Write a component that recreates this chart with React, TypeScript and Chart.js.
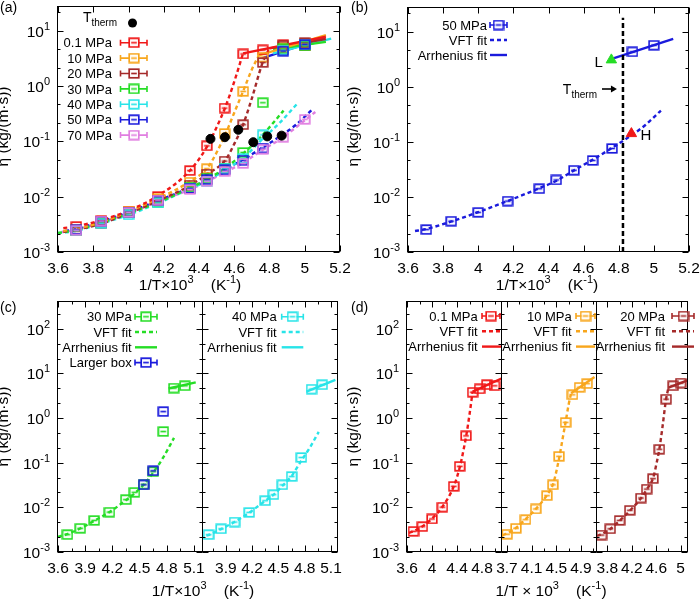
import React, { useEffect, useRef } from 'react';
import { Chart, registerables } from 'chart.js';

Chart.register(...registerables);

const W = 700;
const H = 601;
const FONT = '"Liberation Sans", Arial, Helvetica, sans-serif';
const TICK_FS = 15.5;

// ---------------- data ----------------
const invT = [3.704, 3.846, 4.0, 4.167, 4.348, 4.444, 4.545, 4.651, 4.762, 4.878, 5.0];
const eta01 = [0.0029, 0.0037, 0.0055, 0.0101, 0.0296, 0.083, 0.4, 3.8, 4.5, 5.6, 5.3];
const eta10 = [0.0025, 0.0034, 0.0053, 0.0092, 0.0183, 0.032, 0.139, 0.8, 3.33, 4.9, 5.9];
const eta20 = [0.0024, 0.0033, 0.0051, 0.0086, 0.0162, 0.0257, 0.044, 0.2, 2.66, 5.3, 6.1];
const eta30 = [0.00245, 0.0034, 0.0051, 0.0078, 0.0149, 0.0217, 0.033, 0.063, 0.5, 4.7, 5.3];
const eta40 = [0.00245, 0.0033, 0.0047, 0.0077, 0.0141, 0.0192, 0.032, 0.049, 0.131, 4.45, 5.57];
const eta50 = [0.00255, 0.00363, 0.00524, 0.0084, 0.0141, 0.0203, 0.0305, 0.0459, 0.0757, 4.3, 5.67];
const eta70 = [0.00248, 0.00363, 0.0052, 0.0087, 0.0135, 0.019, 0.0285, 0.04, 0.072, 0.119, 0.25];
const boxX = [4.545, 4.651, 4.762];
const boxY = [0.032, 0.066, 1.4];
const thermX = [4.465, 4.547, 4.623, 4.708, 4.787, 4.869];
const thermY = [0.111, 0.119, 0.162, 0.0966, 0.123, 0.127];

// fit curves
const vft01X = [3.63, 3.7, 3.85, 4.0, 4.17, 4.35, 4.45, 4.5, 4.55, 4.6, 4.65];
const vft01Y = [0.0027, 0.0029, 0.0038, 0.0056, 0.0105, 0.03, 0.085, 0.18, 0.42, 1.2, 3.9];
const arr01X = [4.65, 5.12];
const arr01Y = [3.9, 7.8];
const vft10X = [3.63, 3.7, 3.85, 4.0, 4.17, 4.35, 4.45, 4.55, 4.6, 4.65, 4.7, 4.74];
const vft10Y = [0.0024, 0.0026, 0.0035, 0.0054, 0.0093, 0.019, 0.034, 0.135, 0.33, 0.8, 2.0, 3.6];
const arr10X = [4.74, 5.12];
const arr10Y = [3.6, 8.3];
const vft20X = [3.63, 3.7, 3.85, 4.0, 4.17, 4.35, 4.45, 4.55, 4.6, 4.65, 4.7, 4.76, 4.8];
const vft20Y = [0.0023, 0.0025, 0.0033, 0.005, 0.0085, 0.016, 0.026, 0.046, 0.09, 0.2, 0.6, 2.6, 4.8];
const arr20X = [4.8, 5.12];
const arr20Y = [4.8, 7.1];
const vft30X = [3.6, 3.7, 3.85, 4.0, 4.17, 4.35, 4.45, 4.55, 4.65, 4.76, 4.88];
const vft30Y = [0.0022, 0.0025, 0.0034, 0.005, 0.0079, 0.0145, 0.021, 0.033, 0.06, 0.13, 0.36];
const arr30X = [4.82, 5.12];
const arr30Y = [4.6, 6.3];
const vft40X = [3.6, 3.7, 3.85, 4.0, 4.17, 4.35, 4.45, 4.55, 4.65, 4.76, 4.86, 4.96];
const vft40Y = [0.0022, 0.0024, 0.0033, 0.0047, 0.0077, 0.014, 0.0195, 0.031, 0.05, 0.11, 0.22, 0.49];
const arr40X = [4.82, 5.15];
const arr40Y = [3.9, 7.2];
const vft50X = [3.64, 3.7, 3.85, 4.0, 4.17, 4.35, 4.45, 4.55, 4.65, 4.76, 4.87, 4.95, 5.04];
const vft50Y = [0.0024, 0.0026, 0.0036, 0.0053, 0.0085, 0.0145, 0.02, 0.031, 0.047, 0.077, 0.13, 0.2, 0.37];
const arr50X = [4.76, 5.11];
const arr50Y = [3.2, 7.4];
const vft70X = [3.62, 3.7, 3.85, 4.0, 4.17, 4.35, 4.45, 4.55, 4.65, 4.76, 4.88, 4.96, 5.06];
const vft70Y = [0.0023, 0.0025, 0.0035, 0.005, 0.0083, 0.0135, 0.019, 0.028, 0.041, 0.07, 0.12, 0.19, 0.34];
const vlineX = [4.824, 4.824];
const vlineY = [0.001, 17.8];
const triLX = [4.758];
const triLY = [3.07];
const triHX = [4.872];
const triHY = [0.141];

// ticks
const ticksAB = [3.6, 3.8, 4.0, 4.2, 4.4, 4.6, 4.8, 5.0, 5.2];
const ticksC = [3.6, 3.9, 4.2, 4.5, 4.8, 5.1];
const minorC = [3.75, 4.05, 4.35, 4.65, 4.95];
const ticksD1 = [3.6, 4.0, 4.4, 4.8];
const minorD1 = [3.8, 4.2, 4.6, 5.0];
const ticksD2 = [3.7, 4.1, 4.5, 4.9];
const minorD2 = [3.9, 4.3, 4.7, 5.1];
const ticksD3 = [3.8, 4.2, 4.6, 5.0];
const minorD3 = [4.0, 4.4, 4.8];
const expAB = [-3, -2, -1, 0, 1];
const expCD = [-3, -2, -1, 0, 1, 2];

const COL = {
  red: '#f01818',
  orange: '#f8a61c',
  brown: '#a52a2a',
  green: '#25dd25',
  cyan: '#28e4e8',
  blue: '#1a1adc',
  violet: '#e07ee0',
  black: '#000000',
};

// ---------------- helpers ----------------
type Part = [string, number]; // 0 normal, 1 superscript, 2 subscript

function drawRich(ctx: CanvasRenderingContext2D, parts: Part[], x: number, y: number, size: number, align: 'left' | 'right' | 'center') {
  const small = Math.round(size * 0.68);
  const ws = parts.map(([t, k]) => {
    ctx.font = `${k ? small : size}px ${FONT}`;
    return ctx.measureText(t).width;
  });
  const total = ws.reduce((a, b) => a + b, 0);
  let cx = align === 'left' ? x : align === 'right' ? x - total : x - total / 2;
  ctx.textAlign = 'left';
  ctx.textBaseline = 'alphabetic';
  parts.forEach(([t, k], i) => {
    ctx.font = `${k ? small : size}px ${FONT}`;
    const dy = k === 1 ? -size * 0.45 : k === 2 ? size * 0.28 : 0;
    ctx.fillText(t, cx, y + dy);
    cx += ws[i];
  });
}

const sqCache: Record<string, HTMLCanvasElement> = {};
function sq(color: string): HTMLCanvasElement {
  if (sqCache[color]) return sqCache[color];
  const c = document.createElement('canvas');
  c.width = 12;
  c.height = 11;
  const g = c.getContext('2d')!;
  g.strokeStyle = color;
  g.lineWidth = 1.7;
  g.strokeRect(1.2, 1.2, 9.6, 8.6);
  g.beginPath();
  g.moveTo(3.2, 5.5);
  g.lineTo(8.8, 5.5);
  g.stroke();
  sqCache[color] = c;
  return c;
}

const xy = (xs: number[], ys: number[]) => xs.map((x, i) => ({ x, y: ys[i] }));

function ptsDS(xs: number[], ys: number[], color: string, order: number) {
  return {
    data: xy(xs, ys),
    showLine: false,
    pointStyle: sq(color),
    pointRadius: 5,
    borderColor: color,
    backgroundColor: color,
    order,
  };
}
function lineDS(xs: number[], ys: number[], color: string, dash: boolean, order = 30) {
  return {
    data: xy(xs, ys),
    showLine: true,
    pointRadius: 0,
    borderColor: color,
    backgroundColor: color,
    borderWidth: 2.4,
    borderDash: dash ? [4, 3] : [],
    cubicInterpolationMode: xs.length > 2 ? 'monotone' : 'default',
    tension: 0,
    fill: false,
    order,
  };
}
function markDS(xs: number[], ys: number[], color: string, style: string, r: number, order: number) {
  return {
    data: xy(xs, ys),
    showLine: false,
    pointStyle: style,
    pointRadius: r,
    borderColor: color,
    backgroundColor: color,
    borderWidth: 1,
    order,
  };
}

type Sample = { kind: 'pts' | 'dash' | 'solid' | 'dot'; color: string };

function legendRow(ctx: CanvasRenderingContext2D, text: Part[], xr: number, yc: number, s: Sample, x0: number, x1: number, sx: number) {
  ctx.fillStyle = '#000';
  drawRich(ctx, text, xr, yc + 4.7, 13, 'right');
  ctx.save();
  ctx.strokeStyle = s.color;
  ctx.fillStyle = s.color;
  if (s.kind === 'pts') {
    ctx.lineWidth = 1.6;
    ctx.beginPath();
    ctx.moveTo(x0, yc);
    ctx.lineTo(x1, yc);
    ctx.moveTo(x0, yc - 3);
    ctx.lineTo(x0, yc + 3);
    ctx.moveTo(x1, yc - 3);
    ctx.lineTo(x1, yc + 3);
    ctx.stroke();
    const img = sq(s.color);
    ctx.fillStyle = '#fff';
    ctx.fillRect(sx - 4, yc - 3.5, 8, 7);
    ctx.drawImage(img, sx - img.width / 2, yc - img.height / 2);
  } else if (s.kind === 'dash' || s.kind === 'solid') {
    ctx.lineWidth = 2.4;
    ctx.setLineDash(s.kind === 'dash' ? [4, 3] : []);
    ctx.beginPath();
    ctx.moveTo(x0, yc);
    ctx.lineTo(x1, yc);
    ctx.stroke();
  } else {
    ctx.beginPath();
    ctx.arc(sx, yc, 4.5, 0, Math.PI * 2);
    ctx.fill();
  }
  ctx.restore();
}

function yTitle(ctx: CanvasRenderingContext2D, x: number, cy: number) {
  ctx.save();
  ctx.translate(x, cy);
  ctx.rotate(-Math.PI / 2);
  ctx.fillStyle = '#000';
  drawRich(ctx, [['η (kg/(m·s))', 0]], 0, 0, 15.5, 'center');
  ctx.restore();
}

function xTitle(ctx: CanvasRenderingContext2D, cx: number, y: number, spaced: boolean) {
  ctx.fillStyle = '#000';
  drawRich(
    ctx,
    [[spaced ? '1/T × 10' : '1/T×10', 0], ['3', 1], ['    (K', 0], ['-1', 1], [')', 0]],
    cx,
    y,
    15.5,
    'center'
  );
}

function panelLabel(ctx: CanvasRenderingContext2D, t: string, x: number, y: number) {
  ctx.fillStyle = '#000';
  drawRich(ctx, [[t, 0]], x, y, 14, 'left');
}

type Panel = {
  frame: { l: number; t: number; r: number; b: number };
  xMin: number;
  xMax: number;
  yMin: number;
  yMax: number;
  xTicks: number[];
  xMinor: number[];
  yExp: number[];
  yLabels: boolean;
  datasets: any[];
  deco?: (ctx: CanvasRenderingContext2D, chart: any) => void;
};

const fmt = (v: number) => String(Math.round(v * 10) / 10);

function framePlugin(p: Panel) {
  return {
    id: 'gnuframe',
    afterDraw(chart: any) {
      const ctx: CanvasRenderingContext2D = chart.ctx;
      const a = chart.chartArea;
      const xs = chart.scales.x;
      const ys = chart.scales.y;
      const L = Math.round(a.left) - 0.5;
      const R = Math.round(a.right) - 0.5;
      const T = Math.round(a.top) + 0.5;
      const B = Math.round(a.bottom) - 0.5;
      ctx.save();
      ctx.strokeStyle = '#000';
      ctx.lineWidth = 1;
      ctx.setLineDash([]);
      ctx.beginPath();
      const seg = (x1: number, y1: number, x2: number, y2: number) => {
        ctx.moveTo(x1, y1);
        ctx.lineTo(x2, y2);
      };
      const inX = (v: number) => v >= p.xMin - 1e-6 && v <= p.xMax + 1e-6;
      p.xTicks.forEach((v) => {
        if (!inX(v)) return;
        const x = Math.round(xs.getPixelForValue(v)) + 0.5;
        seg(x, B, x, B - 6);
        seg(x, T, x, T + 6);
      });
      p.xMinor.forEach((v) => {
        if (!inX(v)) return;
        const x = Math.round(xs.getPixelForValue(v)) + 0.5;
        seg(x, B, x, B - 3);
        seg(x, T, x, T + 3);
      });
      p.yExp.forEach((e) => {
        const y = Math.round(ys.getPixelForValue(Math.pow(10, e))) + 0.5;
        seg(L, y, L + 6, y);
        seg(R, y, R - 6, y);
        [1 / 3, 2 / 3].forEach((f) => {
          const v = Math.pow(10, e + f);
          if (v > p.yMax) return;
          const yy = Math.round(ys.getPixelForValue(v)) + 0.5;
          seg(L, yy, L + 3, yy);
          seg(R, yy, R - 3, yy);
        });
      });
      ctx.stroke();
      ctx.strokeRect(L, T, R - L, B - T);
      ctx.fillStyle = '#000';
      p.xTicks.forEach((v) => {
        if (!inX(v)) return;
        drawRich(ctx, [[fmt(v), 0]], xs.getPixelForValue(v), a.bottom + 21, TICK_FS, 'center');
      });
      if (p.yLabels) {
        p.yExp.forEach((e) => {
          drawRich(ctx, [['10', 0], [e < 0 ? '-' + -e : String(e), 1]], a.left - 8, ys.getPixelForValue(Math.pow(10, e)) + 6, TICK_FS, 'right');
        });
      }
      if (p.deco) p.deco(ctx, chart);
      ctx.restore();
    },
  };
}

function makeChart(canvas: HTMLCanvasElement, p: Panel) {
  return new Chart(canvas, {
    type: 'scatter',
    data: { datasets: p.datasets },
    options: {
      animation: false,
      responsive: false,
      maintainAspectRatio: false,
      devicePixelRatio: 1,
      events: [],
      layout: { padding: { left: p.frame.l, top: p.frame.t, right: W - p.frame.r, bottom: H - p.frame.b } },
      scales: {
        x: { type: 'linear', min: p.xMin, max: p.xMax, display: false },
        y: { type: 'logarithmic', min: p.yMin, max: p.yMax, display: false },
      },
      plugins: { legend: { display: false }, tooltip: { enabled: false } },
    } as any,
    plugins: [framePlugin(p)],
  });
}

function buildPanels(): Panel[] {
  const legA: [string, string][] = [
    ['0.1 MPa', COL.red],
    ['10 MPa', COL.orange],
    ['20 MPa', COL.brown],
    ['30 MPa', COL.green],
    ['40 MPa', COL.cyan],
    ['50 MPa', COL.blue],
    ['70 MPa', COL.violet],
  ];
  const a: Panel = {
    frame: { l: 58, t: 1, r: 340, b: 252 },
    xMin: 3.6, xMax: 5.2, yMin: 0.001, yMax: 28,
    xTicks: ticksAB, xMinor: [], yExp: expAB, yLabels: true,
    datasets: [
      lineDS(vft01X, vft01Y, COL.red, true), lineDS(arr01X, arr01Y, COL.red, false),
      lineDS(vft10X, vft10Y, COL.orange, true), lineDS(arr10X, arr10Y, COL.orange, false),
      lineDS(vft20X, vft20Y, COL.brown, true), lineDS(arr20X, arr20Y, COL.brown, false),
      lineDS(vft30X, vft30Y, COL.green, true), lineDS(arr30X, arr30Y, COL.green, false),
      lineDS(vft40X, vft40Y, COL.cyan, true), lineDS(arr40X, arr40Y, COL.cyan, false),
      lineDS(vft50X, vft50Y, COL.blue, true), lineDS(arr50X, arr50Y, COL.blue, false),
      lineDS(vft70X, vft70Y, COL.violet, true),
      ptsDS(invT, eta01, COL.red, 7),
      ptsDS(invT, eta10, COL.orange, 6),
      ptsDS(invT, eta20, COL.brown, 5),
      ptsDS(invT, eta30, COL.green, 4),
      ptsDS(invT, eta40, COL.cyan, 3),
      ptsDS(invT, eta50, COL.blue, 2),
      ptsDS(invT, eta70, COL.violet, 1),
      markDS(thermX, thermY, COL.black, 'circle', 4.5, 0),
    ],
    deco: (ctx) => {
      panelLabel(ctx, '(a)', 0, 12);
      yTitle(ctx, 8, 126.5);
      xTitle(ctx, 190, 290, false);
      ctx.fillStyle = '#000';
      drawRich(ctx, [['T', 0], ['therm', 2]], 117, 22, 14, 'right');
      legendRow(ctx, [], 0, 23, { kind: 'dot', color: '#000' }, 0, 0, 132.5);
      legA.forEach(([t, c], i) => {
        legendRow(ctx, [[t, 0]], 112, 42.7 + i * 15.4, { kind: 'pts', color: c }, 120.5, 147, 134);
      });
    },
  };
  const b: Panel = {
    frame: { l: 408, t: 1, r: 689, b: 252 },
    xMin: 3.6, xMax: 5.2, yMin: 0.001, yMax: 28,
    xTicks: ticksAB, xMinor: [], yExp: expAB, yLabels: true,
    datasets: [
      lineDS(vft50X, vft50Y, COL.blue, true, 20),
      lineDS(arr50X, arr50Y, COL.blue, false, 20),
      { ...lineDS(vlineX, vlineY, COL.black, true, 15), borderWidth: 2.5, borderDash: [5, 3] },
      ptsDS(invT, eta50, COL.blue, 2),
      markDS(triLX, triLY, COL.green, 'triangle', 6, 0),
      markDS(triHX, triHY, COL.red, 'triangle', 6, 0),
    ],
    deco: (ctx, chart) => {
      const xs = chart.scales.x;
      const ys = chart.scales.y;
      panelLabel(ctx, '(b)', 351, 12);
      yTitle(ctx, 358, 126.5);
      xTitle(ctx, 547, 290, false);
      legendRow(ctx, [['50 MPa', 0]], 487, 25, { kind: 'pts', color: COL.blue }, 490, 507, 498.5);
      legendRow(ctx, [['VFT fit', 0]], 487, 40, { kind: 'dash', color: COL.blue }, 490, 507, 0);
      legendRow(ctx, [['Arrhenius fit', 0]], 487, 55, { kind: 'solid', color: COL.blue }, 490, 507, 0);
      const vx = xs.getPixelForValue(vlineX[0]);
      const ay = 89;
      ctx.fillStyle = '#000';
      drawRich(ctx, [['T', 0], ['therm', 2]], vx - 26, ay + 5, 14, 'right');
      ctx.strokeStyle = '#000';
      ctx.lineWidth = 1.6;
      ctx.setLineDash([]);
      ctx.beginPath();
      ctx.moveTo(vx - 21, ay);
      ctx.lineTo(vx - 11, ay);
      ctx.stroke();
      ctx.beginPath();
      ctx.moveTo(vx - 6, ay);
      ctx.lineTo(vx - 12, ay - 3.5);
      ctx.lineTo(vx - 12, ay + 3.5);
      ctx.closePath();
      ctx.fill();
      const lx = xs.getPixelForValue(triLX[0]);
      const ly = ys.getPixelForValue(triLY[0]);
      drawRich(ctx, [['L', 0]], lx - 8.5, ly + 7, 15, 'right');
      const hx = xs.getPixelForValue(triHX[0]);
      const hy = ys.getPixelForValue(triHY[0]);
      drawRich(ctx, [['H', 0]], hx + 9, hy + 6, 15, 'left');
    },
  };
  const cy0 = 316.7;
  const dyL = 15.3;
  const c1: Panel = {
    frame: { l: 58, t: 301, r: 203, b: 552 },
    xMin: 3.6, xMax: 5.2, yMin: 0.001, yMax: 420,
    xTicks: ticksC, xMinor: minorC, yExp: expCD, yLabels: true,
    datasets: [
      lineDS(vft30X, vft30Y, COL.green, true),
      lineDS(arr30X, arr30Y, COL.green, false),
      ptsDS(invT, eta30, COL.green, 3),
      ptsDS(boxX, boxY, COL.blue, 2),
    ],
    deco: (ctx) => {
      panelLabel(ctx, '(c)', 0, 312);
      yTitle(ctx, 8, 426.5);
      legendRow(ctx, [['30 MPa', 0]], 131.7, cy0, { kind: 'pts', color: COL.green }, 135, 157, 146);
      legendRow(ctx, [['VFT fit', 0]], 131.7, cy0 + dyL, { kind: 'dash', color: COL.green }, 135, 157, 0);
      legendRow(ctx, [['Arrhenius fit', 0]], 131.7, cy0 + 2 * dyL, { kind: 'solid', color: COL.green }, 135, 157, 0);
      legendRow(ctx, [['Larger box', 0]], 131.7, cy0 + 3 * dyL, { kind: 'pts', color: COL.blue }, 135, 157, 146);
    },
  };
  const c2: Panel = {
    frame: { l: 203, t: 301, r: 338, b: 552 },
    xMin: 3.64, xMax: 5.18, yMin: 0.001, yMax: 420,
    xTicks: ticksC, xMinor: minorC, yExp: expCD, yLabels: false,
    datasets: [
      lineDS(vft40X, vft40Y, COL.cyan, true),
      lineDS(arr40X, arr40Y, COL.cyan, false),
      ptsDS(invT, eta40, COL.cyan, 3),
    ],
    deco: (ctx) => {
      xTitle(ctx, 203, 596, false);
      legendRow(ctx, [['40 MPa', 0]], 276.7, cy0, { kind: 'pts', color: COL.cyan }, 281.7, 303.3, 292.5);
      legendRow(ctx, [['VFT fit', 0]], 276.7, cy0 + dyL, { kind: 'dash', color: COL.cyan }, 281.7, 303.3, 0);
      legendRow(ctx, [['Arrhenius fit', 0]], 276.7, cy0 + 2 * dyL, { kind: 'solid', color: COL.cyan }, 281.7, 303.3, 0);
    },
  };
  const dy0 = 316;
  const d1: Panel = {
    frame: { l: 407, t: 301, r: 502, b: 552 },
    xMin: 3.6, xMax: 5.12, yMin: 0.001, yMax: 420,
    xTicks: ticksD1, xMinor: minorD1, yExp: expCD, yLabels: true,
    datasets: [
      lineDS(vft01X, vft01Y, COL.red, true),
      lineDS(arr01X, arr01Y, COL.red, false),
      ptsDS(invT, eta01, COL.red, 3),
    ],
    deco: (ctx) => {
      panelLabel(ctx, '(d)', 351, 312);
      yTitle(ctx, 358, 426.5);
      legendRow(ctx, [['0.1 MPa', 0]], 477.7, dy0, { kind: 'pts', color: COL.red }, 482, 500, 491);
      legendRow(ctx, [['VFT fit', 0]], 477.7, dy0 + dyL, { kind: 'dash', color: COL.red }, 482, 501, 0);
      legendRow(ctx, [['Arrhenius fit', 0]], 477.7, dy0 + 2 * dyL, { kind: 'solid', color: COL.red }, 482, 501, 0);
    },
  };
  const d2: Panel = {
    frame: { l: 502, t: 301, r: 597, b: 552 },
    xMin: 3.62, xMax: 5.16, yMin: 0.001, yMax: 420,
    xTicks: ticksD2, xMinor: minorD2, yExp: expCD, yLabels: false,
    datasets: [
      lineDS(vft10X, vft10Y, COL.orange, true),
      lineDS(arr10X, arr10Y, COL.orange, false),
      ptsDS(invT, eta10, COL.orange, 3),
    ],
    deco: (ctx) => {
      xTitle(ctx, 551, 596, true);
      legendRow(ctx, [['10 MPa', 0]], 571.7, dy0, { kind: 'pts', color: COL.orange }, 576, 595, 585.5);
      legendRow(ctx, [['VFT fit', 0]], 571.7, dy0 + dyL, { kind: 'dash', color: COL.orange }, 576, 595, 0);
      legendRow(ctx, [['Arrhenius fit', 0]], 571.7, dy0 + 2 * dyL, { kind: 'solid', color: COL.orange }, 576, 595, 0);
    },
  };
  const d3: Panel = {
    frame: { l: 597, t: 301, r: 688, b: 552 },
    xMin: 3.63, xMax: 5.12, yMin: 0.001, yMax: 420,
    xTicks: ticksD3, xMinor: minorD3, yExp: expCD, yLabels: false,
    datasets: [
      lineDS(vft20X, vft20Y, COL.brown, true),
      lineDS(arr20X, arr20Y, COL.brown, false),
      ptsDS(invT, eta20, COL.brown, 3),
    ],
    deco: (ctx) => {
      legendRow(ctx, [['20 MPa', 0]], 665, dy0, { kind: 'pts', color: COL.brown }, 672, 694, 683.5);
      legendRow(ctx, [['VFT fit', 0]], 665, dy0 + dyL, { kind: 'dash', color: COL.brown }, 672, 694, 0);
      legendRow(ctx, [['Arrhenius fit', 0]], 665, dy0 + 2 * dyL, { kind: 'solid', color: COL.brown }, 672, 694, 0);
    },
  };
  return [a, b, c1, c2, d1, d2, d3];
}

const N_PANELS = 7;

export default function App() {
  const refs = useRef<(HTMLCanvasElement | null)[]>([]);
  useEffect(() => {
    const panels = buildPanels();
    const charts = panels.map((p, i) => makeChart(refs.current[i] as HTMLCanvasElement, p));
    return () => charts.forEach((c) => c.destroy());
  }, []);
  return (
    <div style={{ position: 'fixed', left: 0, top: 0, width: W, height: H, background: '#fff', overflow: 'hidden' }}>
      {Array.from({ length: N_PANELS }).map((_, i) => (
        <canvas
          key={i}
          ref={(el) => {
            refs.current[i] = el;
          }}
          width={W}
          height={H}
          style={{ position: 'absolute', left: 0, top: 0, width: W, height: H }}
        />
      ))}
    </div>
  );
}
